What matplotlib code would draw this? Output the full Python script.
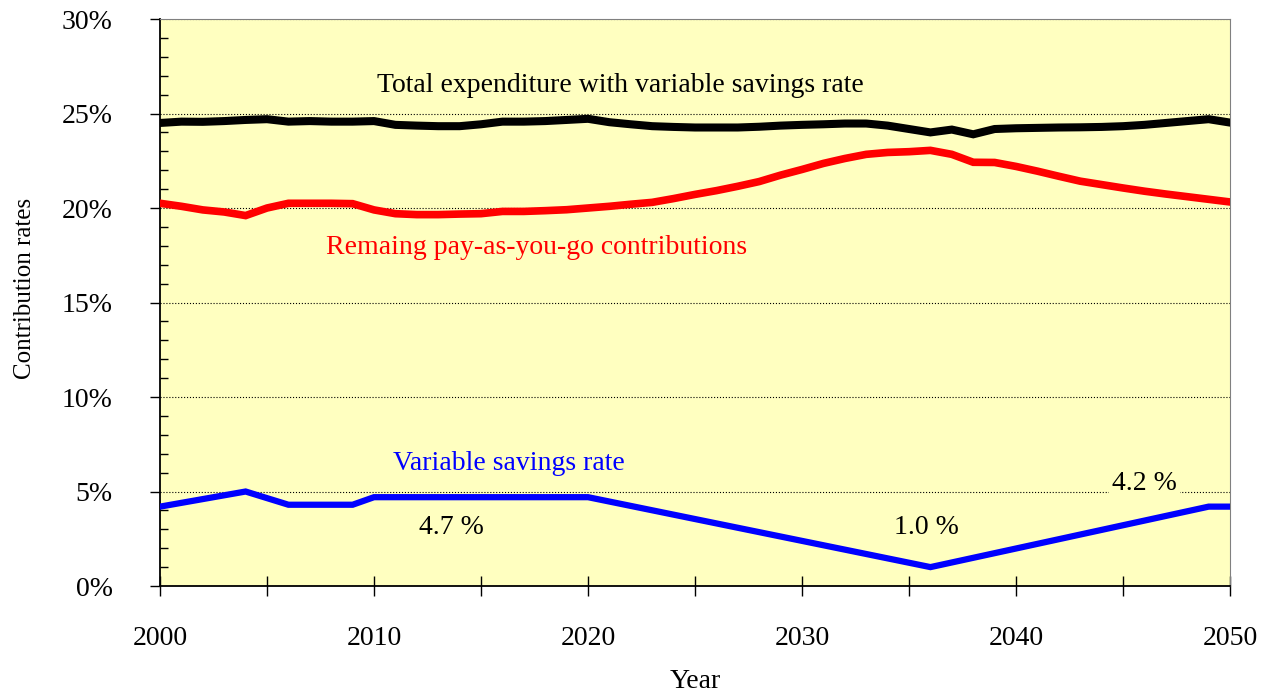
import matplotlib
matplotlib.use("Agg")
import matplotlib.pyplot as plt
from matplotlib.ticker import MultipleLocator, FuncFormatter

plt.rcParams['font.family'] = ['Liberation Serif', 'DejaVu Serif']

# values (percent)
years = list(range(2000, 2051))
total = [24.5, 24.57, 24.56, 24.6, 24.66, 24.7, 24.57, 24.6, 24.57, 24.57,
         24.6, 24.4, 24.36, 24.33, 24.33, 24.43, 24.57, 24.57, 24.6, 24.66,
         24.72, 24.54, 24.43, 24.33, 24.29, 24.26, 24.26, 24.26, 24.3, 24.36,
         24.4, 24.43, 24.47, 24.47, 24.36, 24.18, 24.0, 24.15, 23.9, 24.18,
         24.22, 24.24, 24.26, 24.27, 24.29, 24.33, 24.4, 24.5, 24.6, 24.7,
         24.52]
paygo = [20.25, 20.09, 19.9, 19.79, 19.6, 20.0, 20.25, 20.25, 20.25, 20.23,
         19.9, 19.7, 19.65, 19.65, 19.68, 19.7, 19.82, 19.82, 19.86, 19.91,
         20.0, 20.09, 20.2, 20.3, 20.5, 20.72, 20.92, 21.15, 21.4, 21.74,
         22.04, 22.36, 22.62, 22.84, 22.94, 22.98, 23.05, 22.84, 22.42, 22.41,
         22.2, 21.95, 21.68, 21.42, 21.24, 21.06, 20.89, 20.74, 20.6, 20.46,
         20.32]
savings_years = [2000, 2004, 2006, 2009, 2010, 2020, 2036, 2049, 2050]
savings = [4.2, 5.0, 4.3, 4.3, 4.7, 4.7, 1.0, 4.2, 4.2]

fig = plt.figure(figsize=(12.63, 6.94), dpi=100)
ax = fig.add_axes([0.1267, 0.1556, 0.8472, 0.817])
ax.set_facecolor('#ffffc0')

ax.plot(years, total, color='black', lw=5.8, solid_joinstyle='miter', zorder=3)
ax.plot(years, paygo, color='#ff0000', lw=5.5, solid_joinstyle='miter', zorder=3)
ax.plot(savings_years, savings, color='#0000ff', lw=4.5, solid_joinstyle='miter', zorder=3)

ax.set_xlim(2000, 2050)
ax.set_ylim(0, 30)

ax.yaxis.set_major_locator(MultipleLocator(5))
ax.yaxis.set_minor_locator(MultipleLocator(1))
ax.yaxis.set_major_formatter(FuncFormatter(lambda v, p: f"{v:.0f}%"))
ax.xaxis.set_major_locator(MultipleLocator(10))
ax.xaxis.set_minor_locator(MultipleLocator(5))

ax.tick_params(axis='y', which='major', direction='out', length=7, width=1, labelsize=20, pad=27)
ax.tick_params(axis='y', which='minor', direction='in', length=6, width=1)
ax.tick_params(axis='x', which='both', direction='inout', length=15, width=1)
ax.tick_params(axis='x', which='major', labelsize=20, pad=21)

ax.grid(axis='y', which='major', color='black', linestyle=':', lw=0.8, zorder=1)
for s in ['top', 'right']:
    ax.spines[s].set_color('#808080')
for s in ['left', 'bottom']:
    ax.spines[s].set_linewidth(1.3)

ax.set_xlabel("Year", fontsize=20, labelpad=13)
ax.set_ylabel("Contribution rates", fontsize=18)
ax.yaxis.set_label_coords(-0.116, 0.524)

ax.text(2021.5, 26.5, "Total expenditure with variable savings rate",
        fontsize=20, color='black', ha='center', va='center')
ax.text(2017.6, 17.9, "Remaing pay-as-you-go contributions",
        fontsize=20, color='#ff0000', ha='center', va='center')
ax.text(2016.3, 6.5, "Variable savings rate",
        fontsize=20, color='#0000ff', ha='center', va='center')
ax.text(2013.6, 3.1, "4.7 %", fontsize=20, ha='center', va='center')
ax.text(2035.8, 3.1, "1.0 %", fontsize=20, ha='center', va='center')
ax.text(2046.0, 5.45, "4.2 %", fontsize=20, ha='center', va='center',
        bbox=dict(facecolor='#ffffc0', edgecolor='none', pad=2), zorder=2)

fig.savefig("out.png", dpi=100)
